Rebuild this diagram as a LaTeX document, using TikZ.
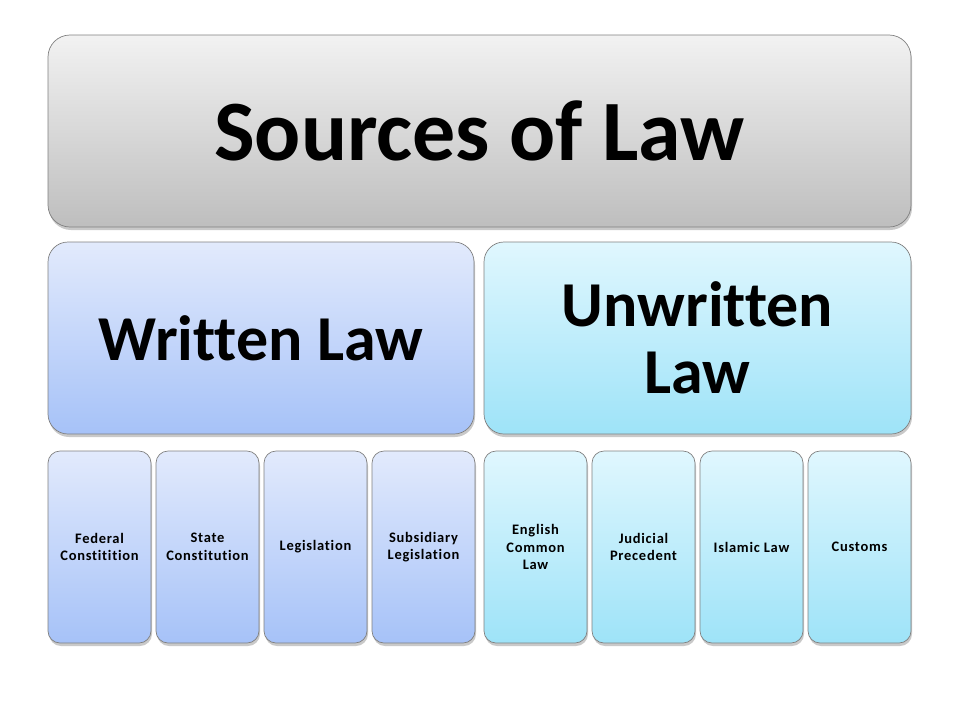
\documentclass[tikz,border=0pt]{standalone}
\usepackage{fontspec}
\setmainfont{Carlito}[Ligatures=NoCommon]
\usetikzlibrary{shadows}

\definecolor{grayTop}{HTML}{F2F2F2}
\definecolor{grayBot}{HTML}{BEBEBE}
\definecolor{writTop}{HTML}{E2EAFC}
\definecolor{writBot}{HTML}{A6C2F8}
\definecolor{unwrTop}{HTML}{E0F7FE}
\definecolor{unwrBot}{HTML}{9EE3F8}

\begin{document}
\begin{tikzpicture}[x=1pt, y=-1pt,
	box/.style={draw=black!50, line width=0.7pt, rounded corners=#1, align=center, inner sep=0pt,
		drop shadow={shadow xshift=1pt, shadow yshift=-3pt, opacity=0.3, fill=black!70}},
	box/.default=12pt,
	writ/.style={top color=writTop, bottom color=writBot},
	unwr/.style={top color=unwrTop, bottom color=unwrBot},
	head/.style={box=20pt, minimum height=192pt, font=\bfseries\fontsize{64}{67}\selectfont},
	leaf/.style={box=12pt, minimum width=103pt, minimum height=192pt,
		font=\bfseries\fontsize{14.5}{17.5}\selectfont\addfontfeature{LetterSpace=5}}]
	\useasboundingbox (0,0) rectangle (960,720);

	\node[box=22pt, minimum width=863pt, minimum height=192pt, top color=grayTop, bottom color=grayBot,
		font=\bfseries\fontsize{86}{90}\selectfont] (sources) at (479.5,131) {Sources of Law};

	\node[head, writ, minimum width=426pt] (written) at (261,338) {Written Law};
	\node[head, unwr, minimum width=427pt] (unwritten) at (697.5,338) {Unwritten\\Law};

	% written law
	\foreach \x/\name/\txt in {99.5/fed/Federal\\Constitition, 207.5/state/State\\Constitution,
		315.5/legis/Legislation, 423.5/subleg/Subsidiary\\Legislation}
		\node[leaf, writ] (\name) at (\x,547) {\txt};

	% unwritten law
	\foreach \x/\name/\txt in {535.5/eng/English\\Common\\Law, 643.5/jud/Judicial\\Precedent,
		751.5/islam/Islamic Law, 859.5/cust/Customs}
		\node[leaf, unwr] (\name) at (\x,547) {\txt};
\end{tikzpicture}
\end{document}
